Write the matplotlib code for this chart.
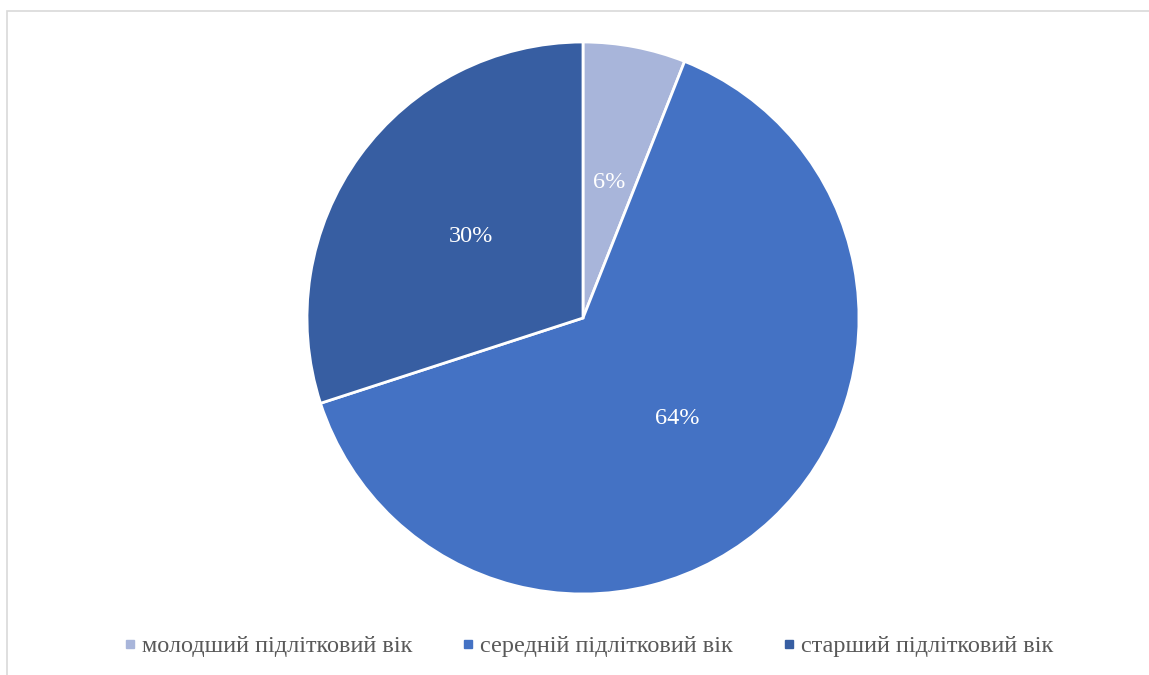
import matplotlib
matplotlib.use("Agg")
import matplotlib.pyplot as plt
from matplotlib.lines import Line2D
from matplotlib.patches import Rectangle

plt.rcParams['font.family'] = ['Liberation Serif', 'DejaVu Serif']

groups = ['молодший підлітковий вік', 'середній підлітковий вік', 'старший підлітковий вік']
shares = [6, 64, 30]
colors = ['#A8B5DA', '#4472C4', '#375EA2']

fig = plt.figure(figsize=(11.49, 6.75), dpi=100)

# light frame around the chart area
fig.patches.append(Rectangle((7 / 1149, -0.1), 1.2, (675 - 11) / 675 + 0.1,
                             transform=fig.transFigure, fill=False,
                             edgecolor='#D9D9D9', linewidth=1.2))

ax = fig.add_axes([307 / 1149, (675 - 594) / 675, 552 / 1149, 552 / 675])
wedges, texts, autotexts = ax.pie(
    shares, colors=colors, startangle=90, counterclock=False,
    autopct='%1.0f%%', pctdistance=0.5, radius=1,
    wedgeprops=dict(edgecolor='white', linewidth=2),
    textprops=dict(color='white', fontsize=17.5))
ax.set_xlim(-1, 1)
ax.set_ylim(-1, 1)
ax.set_aspect('equal')

handles = [Line2D([], [], marker='s', linestyle='none', markersize=6,
                  markerfacecolor=c, markeredgecolor=c) for c in colors]
fig.legend(handles, groups, loc='center', bbox_to_anchor=(589 / 1149, (675 - 646) / 675),
           ncol=3, frameon=False, fontsize=17.5, labelcolor='#595959',
           handlelength=0.4, handletextpad=0.3, columnspacing=2.1)

fig.savefig('out.png', dpi=100)
